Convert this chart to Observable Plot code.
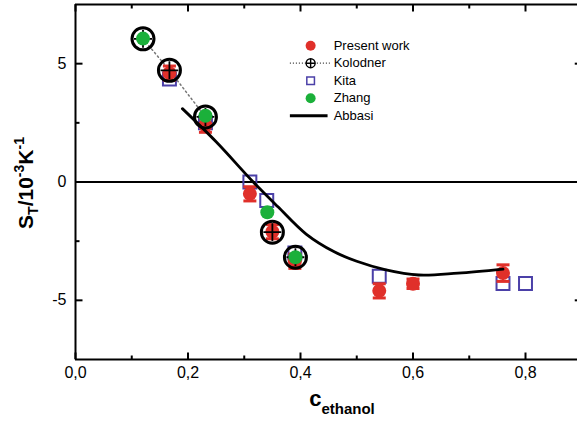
<!DOCTYPE html>
<html><head><meta charset="utf-8">
<script src="https://cdn.jsdelivr.net/npm/d3@7"></script>
<script src="https://cdn.jsdelivr.net/npm/@observablehq/plot@0.6"></script>
<style>body{margin:0;background:#fff} svg{display:block}</style>
</head><body><div id="chart"></div>
<script>
// ---- data ----
const presentX   = [0.167, 0.231, 0.31, 0.35, 0.39, 0.54, 0.60, 0.76];
const presentY   = [4.6, 2.4, -0.5, -2.1, -3.35, -4.6, -4.3, -3.85];
const presentErr = [0.3, 0.3, 0.3, 0.3, 0.3, 0.3, 0.2, 0.35];
const kolodnerX  = [0.12, 0.167, 0.231, 0.35, 0.391];
const kolodnerY  = [6.05, 4.72, 2.75, -2.12, -3.18];
const kitaX      = [0.167, 0.231, 0.31, 0.34, 0.39, 0.54, 0.76, 0.80];
const kitaY      = [4.35, 2.5, 0.0, -0.78, -3.0, -3.98, -4.29, -4.29];
const zhangX     = [0.12, 0.231, 0.341, 0.391];
const zhangY     = [6.06, 2.8, -1.28, -3.18];
const abbasiX    = [0.19, 0.25, 0.316, 0.36, 0.41, 0.46, 0.50, 0.55, 0.61, 0.68, 0.76];
const abbasiY    = [3.1, 1.7, 0.0, -1.05, -2.2, -2.95, -3.35, -3.7, -3.93, -3.85, -3.68];
const xMajor = [0, 0.2, 0.4, 0.6, 0.8];
const xMinor = [0.1, 0.3, 0.5, 0.7, 0.9];
const yMajor = [-5, 0, 5];
const yMinor = [-2.5, 2.5];
const legendLabels = ["Present work", "Kolodner", "Kita", "Zhang", "Abbasi"];

const RED = "#e0302a", GREEN = "#1bb03a", BLUE = "#4b40a8";
const zip = (xs, ys, extra) => xs.map((x, i) => ({x, y: ys[i], e: extra ? extra[i] : 0}));
const present = zip(presentX, presentY, presentErr);
const kolodner = zip(kolodnerX, kolodnerY);
const kita = zip(kitaX, kitaY);
const zhang = zip(zhangX, zhangY);
const abbasi = zip(abbasiX, abbasiY);

// legend placement (data units)
const LX = 0.418, LX1 = 0.382, LX2 = 0.453, LTX = 0.459, LY0 = 5.76, LSTEP = 0.74;
const legendY = i => LY0 - i * LSTEP;

// custom symbols
const seg = (dx, dy) => ({draw(ctx) { ctx.moveTo(0, 0); ctx.lineTo(dx, dy); }});
const hcap = w => ({draw(ctx) { ctx.moveTo(-w, 0); ctx.lineTo(w, 0); }});
const plusSym = L => ({draw(ctx) { ctx.moveTo(-L, 0); ctx.lineTo(L, 0); ctx.moveTo(0, -L); ctx.lineTo(0, L); }});

const X0 = 0, X1 = 0.9, Y0 = -7.5, Y1 = 7.5;
const tickDots = (vals, axis, at, sym, sw) => Plot.dot(vals, axis === "x"
  ? {x: d => d, y: () => at, symbol: sym, r: 1, fill: "none", stroke: "black", strokeWidth: sw}
  : {x: () => at, y: d => d, symbol: sym, r: 1, fill: "none", stroke: "black", strokeWidth: sw});

const chart = Plot.plot({
  width: 577, height: 424,
  marginLeft: 75, marginRight: 0, marginTop: 4, marginBottom: 65,
  x: {domain: [X0, X1], range: [75, 581.25]},
  y: {domain: [Y0, Y1], range: [359, 4]},
  style: {fontFamily: "'Liberation Sans', Arial, sans-serif", fontSize: "16px", color: "black", background: "white"},
  marks: [
    // frame
    Plot.ruleY([Y0, Y1], {stroke: "black", strokeWidth: 2}),
    Plot.ruleX([X0], {stroke: "black", strokeWidth: 2}),
    Plot.ruleY([0], {stroke: "black", strokeWidth: 2}),
    // inward ticks
    tickDots(xMajor, "x", Y0, seg(0, -7), 2),
    tickDots(xMinor, "x", Y0, seg(0, -4), 2),
    tickDots(xMajor, "x", Y1, seg(0, 7), 2),
    tickDots(xMinor, "x", Y1, seg(0, 4), 2),
    tickDots(yMajor, "y", X0, seg(7, 0), 2),
    tickDots(yMinor, "y", X0, seg(4, 0), 2),
    tickDots(yMajor, "y", X1, seg(-7, 0), 2),
    tickDots(yMinor, "y", X1, seg(-4, 0), 2),
    // tick labels
    Plot.axisX({ticks: xMajor, tickSize: 0, tickPadding: 7, label: null, fontSize: 16,
      tickFormat: d => d.toFixed(1).replace(".", ",")}),
    Plot.axisY({ticks: yMajor, tickSize: 0, tickPadding: 9, label: null, fontSize: 16,
      tickFormat: d => d < 0 ? "-" + Math.abs(d) : String(d)}),
    // Kolodner dotted connector
    Plot.line(kolodner.slice(0, 3), {x: "x", y: "y", stroke: "#777", strokeWidth: 1.5, strokeDasharray: "1.5,3"}),
    // Kita
    Plot.dot(kita, {x: "x", y: "y", symbol: "square", r: 7.3, fill: "none", stroke: BLUE, strokeWidth: 2}),
    // Present work with error bars
    Plot.ruleX(present, {x: "x", y1: d => d.y - d.e, y2: d => d.y + d.e, stroke: RED, strokeWidth: 2}),
    Plot.dot(present, {x: "x", y: d => d.y - d.e, symbol: hcap(6.5), r: 1, fill: "none", stroke: RED, strokeWidth: 3}),
    Plot.dot(present, {x: "x", y: d => d.y + d.e, symbol: hcap(6.5), r: 1, fill: "none", stroke: RED, strokeWidth: 3}),
    Plot.dot(present, {x: "x", y: "y", r: 7, fill: RED}),
    // Kolodner
    Plot.dot(kolodner, {x: "x", y: "y", symbol: plusSym(9), r: 1, fill: "none", stroke: "black", strokeWidth: 1.8}),
    Plot.dot(kolodner, {x: "x", y: "y", r: 11, fill: "none", stroke: "black", strokeWidth: 3}),
    // Zhang
    Plot.dot(zhang, {x: "x", y: "y", r: 7, fill: GREEN}),
    // Abbasi
    Plot.line(abbasi, {x: "x", y: "y", curve: "catmull-rom", stroke: "black", strokeWidth: 2.8}),
    // legend
    Plot.dot([legendLabels[0]], {x: () => LX, y: () => legendY(0), r: 5, fill: RED}),
    Plot.ruleY([legendY(1)], {x1: LX1, x2: LX2, stroke: "#333", strokeWidth: 1.2, strokeDasharray: "1,2"}),
    Plot.dot([legendLabels[1]], {x: () => LX, y: () => legendY(1), r: 4.5, fill: "white", stroke: "black", strokeWidth: 1.4}),
    Plot.dot([legendLabels[1]], {x: () => LX, y: () => legendY(1), symbol: plusSym(4.5), r: 1, fill: "none", stroke: "black", strokeWidth: 1.4}),
    Plot.dot([legendLabels[2]], {x: () => LX, y: () => legendY(2), symbol: "square", r: 4.3, fill: "none", stroke: BLUE, strokeWidth: 1.5}),
    Plot.dot([legendLabels[3]], {x: () => LX, y: () => legendY(3), r: 5, fill: GREEN}),
    Plot.ruleY([legendY(4)], {x1: LX1, x2: LX2 - 0.004, stroke: "black", strokeWidth: 3}),
    Plot.text(legendLabels, {x: () => LTX, y: (d, i) => legendY(i), text: d => d, textAnchor: "start", fontSize: 13})
  ]
});

// axis titles with sub/superscripts
const svg = d3.select(chart);
const yl = svg.append("text")
  .attr("transform", "translate(33,183) rotate(-90)")
  .attr("text-anchor", "middle")
  .attr("font-family", "'Liberation Sans', Arial, sans-serif")
  .attr("font-weight", "bold").attr("font-size", 21).attr("fill", "black");
yl.append("tspan").text("S");
yl.append("tspan").attr("font-size", 14).attr("dy", 5).text("T");
yl.append("tspan").attr("dy", -5).text("/10");
yl.append("tspan").attr("font-size", 14).attr("dy", -9).text("-3");
yl.append("tspan").attr("dy", 9).text("K");
yl.append("tspan").attr("font-size", 14).attr("dy", -9).text("-1");

const xl = svg.append("text")
  .attr("x", 342).attr("y", 406)
  .attr("text-anchor", "middle")
  .attr("font-family", "'Liberation Sans', Arial, sans-serif")
  .attr("font-weight", "bold").attr("font-size", 22).attr("fill", "black");
xl.append("tspan").text("c");
xl.append("tspan").attr("font-size", 15).attr("dy", 8).text("ethanol");

document.getElementById("chart").appendChild(chart);
</script>
</body></html>
